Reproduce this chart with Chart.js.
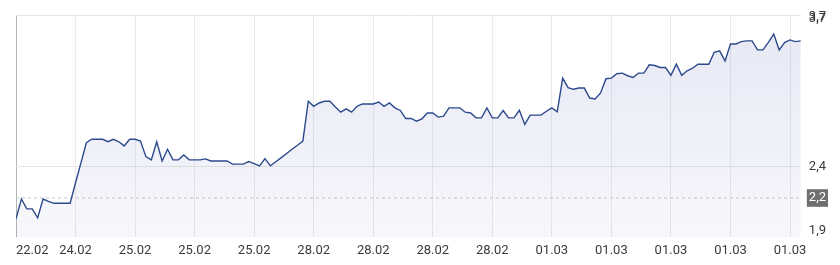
<!DOCTYPE html>
<html>
<head>
<meta charset="utf-8">
<script src="https://cdn.jsdelivr.net/npm/chart.js@4/dist/chart.umd.min.js"></script>
<style>
  html, body { margin: 0; padding: 0; background: #fff; }
  #wrap { position: relative; width: 840px; height: 265px; }
</style>
</head>
<body>
<div id="wrap"><canvas id="chart"></canvas></div>
<script>
  // price per intraday step (146 points)
  const prices = [
    2.051, 2.212, 2.132, 2.132, 2.059, 2.212, 2.193, 2.177, 2.177, 2.177,
    2.177, 2.344, 2.505, 2.669, 2.697, 2.697, 2.697, 2.677, 2.697, 2.677,
    2.643, 2.697, 2.697, 2.683, 2.556, 2.530, 2.677, 2.521, 2.616, 2.530,
    2.530, 2.570, 2.530, 2.530, 2.530, 2.538, 2.521, 2.521, 2.521, 2.521,
    2.495, 2.495, 2.495, 2.516, 2.500, 2.481, 2.540, 2.481, 2.515, 2.548,
    2.582, 2.616, 2.649, 2.683, 3.006, 2.965, 2.992, 3.006, 3.006, 2.960,
    2.917, 2.944, 2.917, 2.965, 2.984, 2.984, 2.984, 3.000, 2.965, 2.992,
    2.952, 2.931, 2.866, 2.866, 2.844, 2.863, 2.911, 2.911, 2.877, 2.885,
    2.952, 2.952, 2.952, 2.917, 2.911, 2.871, 2.871, 2.952, 2.871, 2.871,
    2.931, 2.871, 2.871, 2.933, 2.818, 2.893, 2.893, 2.893, 2.925, 2.952,
    2.921, 3.194, 3.116, 3.103, 3.113, 3.113, 3.032, 3.024, 3.073, 3.189,
    3.194, 3.229, 3.234, 3.213, 3.199, 3.234, 3.234, 3.302, 3.296, 3.280,
    3.280, 3.216, 3.307, 3.216, 3.253, 3.274, 3.307, 3.307, 3.307, 3.404,
    3.415, 3.334, 3.471, 3.471, 3.490, 3.496, 3.496, 3.423, 3.423, 3.484,
    3.552, 3.423, 3.482, 3.504, 3.490, 3.496
  ];
  const prevClose = 2.22;

  // x axis: one label every 11 steps
  const xTickLabels = ['22.02', '24.02', '25.02', '25.02', '25.02', '28.02', '28.02',
                       '28.02', '28.02', '01.03', '01.03', '01.03', '01.03', '01.03'];
  const xTickStep = 11;

  // y axis ticks (values and what the axis prints for them)
  const yTickValues = [1.957, 2.22, 2.473, 3.676, 3.69, 3.7];
  const yTickLabels = ['1,9', '2,2', '2,4', '3,7', '3,7', ''];
  const yMin = 1.9, yMax = 3.7;

  const lastIdx = prices.length - 1;
  const lineData = prices.map((v, i) => ({ x: i, y: v }));
  const prevData = [{ x: 0, y: prevClose }, { x: lastIdx, y: prevClose }];

  const FONT = { family: 'Roboto', size: 13 };
  const TEXT = '#3b3b3b';

  function areaFill(ctx) {
    const area = ctx.chart.chartArea;
    if (!area) return 'rgba(60,70,160,0.07)';
    const g = ctx.chart.ctx.createLinearGradient(0, area.top, 0, area.bottom);
    g.addColorStop(0, 'rgba(60,72,165,0.13)');
    g.addColorStop(1, 'rgba(60,72,165,0.04)');
    return g;
  }

  new Chart(document.getElementById('chart'), {
    type: 'line',
    data: {
      datasets: [
        {
          data: lineData,
          borderColor: '#2c4a8c',
          borderWidth: 1.4,
          pointRadius: 0,
          tension: 0,
          fill: 'start',
          backgroundColor: areaFill
        },
        {
          data: prevData,
          borderColor: '#c9c9c9',
          borderWidth: 1,
          borderDash: [3, 3],
          pointRadius: 0,
          fill: false
        }
      ]
    },
    options: {
      responsive: true,
      maintainAspectRatio: false,
      animation: false,
      events: [],
      layout: { padding: { left: 16, right: 6, top: 14, bottom: 0 } },
      plugins: { legend: { display: false }, tooltip: { enabled: false } },
      scales: {
        x: {
          type: 'linear',
          min: 0,
          max: lastIdx,
          afterBuildTicks: (scale) => {
            const t = xTickLabels.map((_, k) => ({ value: k * xTickStep }));
            t.push({ value: lastIdx });
            scale.ticks = t;
          },
          border: { display: false },
          grid: {
            drawTicks: false,
            lineWidth: 1,
            color: (ctx) => {
              if (!ctx.tick) return 'transparent';
              if (ctx.tick.value === 0) return '#b4b4b4';
              if (ctx.tick.value === lastIdx) return 'transparent';
              return '#ebebeb';
            }
          },
          ticks: {
            autoSkip: false,
            maxRotation: 0,
            align: 'inner',
            padding: 6,
            color: TEXT,
            font: FONT,
            callback: (v, i) => (i < xTickLabels.length ? xTickLabels[i] : '')
          }
        },
        y: {
          position: 'right',
          min: yMin,
          max: yMax,
          afterBuildTicks: (scale) => {
            scale.ticks = yTickValues.map((v) => ({ value: v }));
          },
          border: { display: false },
          grid: {
            drawTicks: false,
            color: (ctx) => {
              if (!ctx.tick) return 'transparent';
              const v = ctx.tick.value;
              return (v === 2.473 || v === yMax) ? '#e6e6e6' : 'transparent';
            }
          },
          ticks: {
            autoSkip: false,
            padding: 8,
            font: FONT,
            color: (ctx) => (ctx.tick && ctx.tick.value === prevClose ? '#ffffff' : TEXT),
            showLabelBackdrop: (ctx) => !!(ctx.tick && ctx.tick.value === prevClose),
            backdropColor: '#6f6f6f',
            backdropPadding: { top: 1, bottom: 1, left: 2, right: 2 },
            callback: (v, i) => yTickLabels[i]
          }
        }
      }
    }
  });
</script>
</body>
</html>
